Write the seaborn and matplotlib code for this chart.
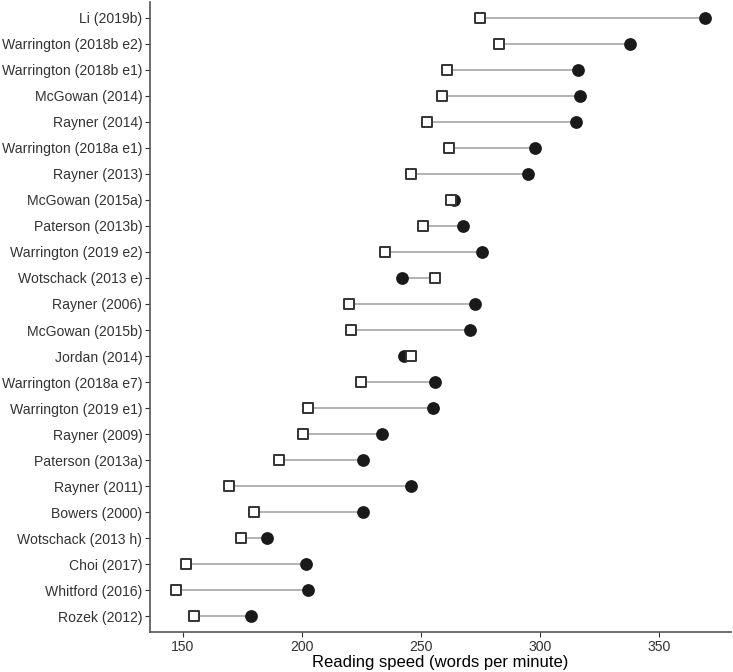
import numpy as np
import pandas as pd
import matplotlib
matplotlib.use("Agg")
import matplotlib.pyplot as plt
import seaborn as sns

# studies, top to bottom
studies = ["Li (2019b)", "Warrington (2018b e2)", "Warrington (2018b e1)", "McGowan (2014)",
           "Rayner (2014)", "Warrington (2018a e1)", "Rayner (2013)", "McGowan (2015a)",
           "Paterson (2013b)", "Warrington (2019 e2)", "Wotschack (2013 e)", "Rayner (2006)",
           "McGowan (2015b)", "Jordan (2014)", "Warrington (2018a e7)", "Warrington (2019 e1)",
           "Rayner (2009)", "Paterson (2013a)", "Rayner (2011)", "Bowers (2000)",
           "Wotschack (2013 h)", "Choi (2017)", "Whitford (2016)", "Rozek (2012)"]

# open squares
speed_square = [274.7, 282.7, 260.7, 258.8, 252.6, 261.8, 245.7, 262.6,
                250.9, 234.8, 255.7, 219.6, 220.6, 245.7, 224.6, 202.6,
                200.6, 190.4, 169.5, 179.7, 174.5, 151.2, 147.3, 154.5]

# filled circles
speed_dot = [369.0, 337.8, 316.0, 316.9, 314.9, 297.7, 294.7, 264.0,
             267.7, 275.5, 241.8, 272.7, 270.7, 242.7, 255.7, 254.8,
             233.5, 225.6, 245.9, 225.6, 185.4, 201.7, 202.5, 178.6]

df = pd.DataFrame({"study": studies, "square": speed_square, "dot": speed_dot})

sns.set_style("white")
plt.rcParams["font.family"] = ["Liberation Sans", "DejaVu Sans"]

fig, ax = plt.subplots(figsize=(7.33, 6.72), dpi=100)
fig.subplots_adjust(left=150 / 733, right=731 / 733, top=1 - 2 / 672, bottom=1 - 632 / 672)

ypos = np.arange(len(df))
ax.hlines(ypos, df["square"], df["dot"], color="#a6a6a6", linewidth=1.2, zorder=1)

sns.stripplot(data=df, x="dot", y="study", jitter=False, color="#1a1a1a",
              size=9.2, linewidth=0, ax=ax, zorder=2)
sns.stripplot(data=df, x="square", y="study", jitter=False, color="white",
              marker="s", size=7.6, linewidth=1.4, edgecolor="#333333", ax=ax, zorder=3)

vals = np.concatenate([df["square"], df["dot"]])
span = vals.max() - vals.min()
ax.set_xlim(vals.min() - 0.05 * span, vals.max() + 0.05 * span)
ax.set_ylim(len(df) - 1 + 0.6, -0.6)
ax.set_xticks([150, 200, 250, 300, 350])

ax.set_xlabel("Reading speed (words per minute)", fontsize=12, color="black", labelpad=1)
ax.set_ylabel("")
ax.tick_params(axis="both", labelsize=10.1, labelcolor="#333333", color="#333333",
               length=3.5, width=0.8, left=True, bottom=True, pad=2)

sns.despine(ax=ax)
for side in ["left", "bottom"]:
    ax.spines[side].set_color("#555555")
    ax.spines[side].set_linewidth(1.2)

fig.savefig("out.png", dpi=100)
